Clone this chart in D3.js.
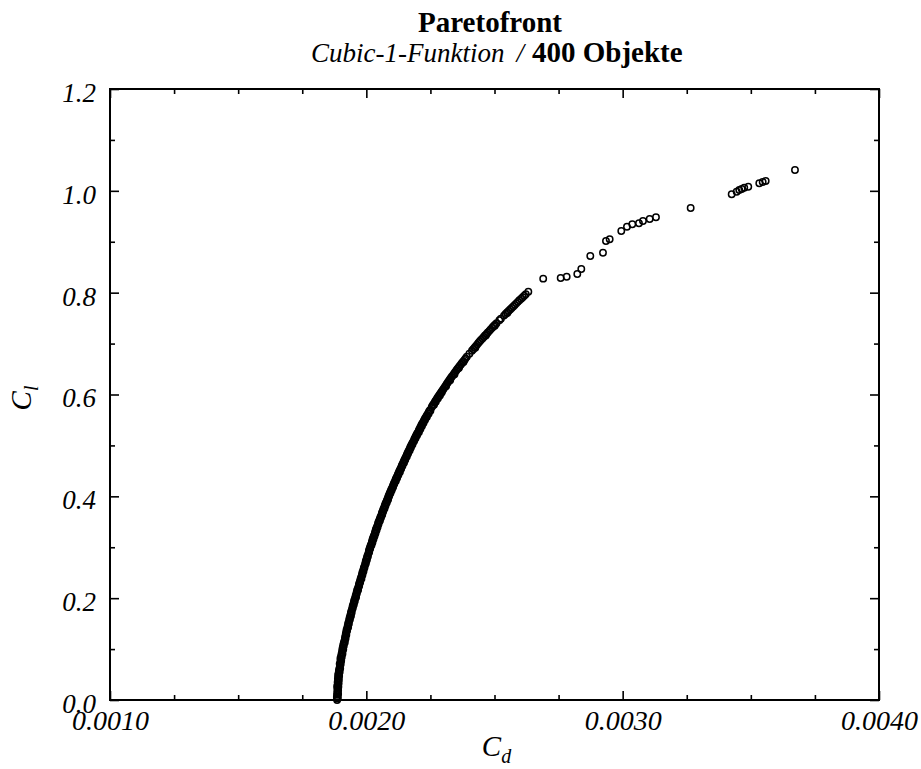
<!DOCTYPE html>
<html><head><meta charset="utf-8">
<script src="https://cdn.jsdelivr.net/npm/d3@7/dist/d3.min.js"></script>
<style>body{margin:0;background:#fff}</style>
</head><body><svg id="chart" width="921" height="769"></svg>
<script>
// ---------- data ----------
const titleText = "Paretofront";
const subtitleItalic = "Cubic-1-Funktion";
const subtitleSep = "/";
const subtitleBold = "400 Objekte";
const xTitle = ["C", "d"];
const yTitle = ["C", "l"];
const xDomain = [0.0010, 0.0040];
const yDomain = [0.0, 1.2];
const xMajorTicks = [0.0010, 0.0020, 0.0030, 0.0040];
const xMinorTicks = [0.00125, 0.0015, 0.00175, 0.00225, 0.0025, 0.00275, 0.00325, 0.0035, 0.00375];
const yMajorTicks = [0.0, 0.2, 0.4, 0.6, 0.8, 1.0, 1.2];
const yMinorTicks = [0.1, 0.3, 0.5, 0.7, 0.9, 1.1];

// Pareto front points [Cd, Cl]
const frontLower = [[0.001886,0.000],[0.001887,0.003],[0.001885,0.006],[0.001887,0.010],[0.001886,0.013],[0.001888,0.017],[0.001887,0.020],[0.001888,0.024],[0.001886,0.027],[0.001889,0.031],[0.001888,0.035],[0.001890,0.038],[0.001889,0.042],[0.001891,0.046],[0.001890,0.049],[0.001892,0.053],[0.001893,0.057],[0.001894,0.060],[0.001896,0.064],[0.001897,0.068],[0.001896,0.071],[0.001899,0.075],[0.001900,0.079],[0.001899,0.082],[0.001902,0.086],[0.001903,0.090],[0.001905,0.093],[0.001906,0.097],[0.001907,0.101],[0.001909,0.104],[0.001910,0.108],[0.001912,0.112],[0.001914,0.115],[0.001916,0.119],[0.001917,0.123],[0.001919,0.127],[0.001920,0.130],[0.001922,0.134],[0.001923,0.138],[0.001926,0.141],[0.001927,0.145],[0.001929,0.149],[0.001930,0.152],[0.001933,0.156],[0.001934,0.160],[0.001936,0.163],[0.001938,0.167],[0.001940,0.171],[0.001941,0.174],[0.001944,0.178],[0.001946,0.182],[0.001947,0.185],[0.001950,0.189],[0.001952,0.193],[0.001953,0.196],[0.001956,0.200],[0.001958,0.204],[0.001960,0.207],[0.001962,0.211],[0.001964,0.215],[0.001966,0.218],[0.001969,0.222],[0.001971,0.226],[0.001972,0.229],[0.001975,0.233],[0.001977,0.237],[0.001979,0.240],[0.001982,0.244],[0.001984,0.248],[0.001985,0.251],[0.001988,0.255],[0.001990,0.259],[0.001992,0.262],[0.001995,0.266],[0.001997,0.270],[0.001998,0.273],[0.002001,0.277],[0.002003,0.281],[0.002005,0.284],[0.002008,0.288],[0.002010,0.292],[0.002011,0.295],[0.002014,0.299]];

const frontLowerOuter = [[0.001889,0.005],[0.001890,0.012],[0.001890,0.019],[0.001891,0.026],[0.001892,0.033],[0.001893,0.040],[0.001894,0.047],[0.001896,0.055],[0.001898,0.062],[0.001900,0.070],[0.001902,0.077],[0.001904,0.084],[0.001907,0.091],[0.001910,0.099],[0.001912,0.106],[0.001916,0.113],[0.001919,0.121],[0.001922,0.128],[0.001925,0.136],[0.001929,0.143],[0.001932,0.150],[0.001936,0.158],[0.001940,0.165],[0.001943,0.172],[0.001947,0.180],[0.001951,0.187],[0.001955,0.194],[0.001960,0.202],[0.001963,0.209],[0.001968,0.216],[0.001972,0.224],[0.001976,0.231],[0.001981,0.238],[0.001985,0.246],[0.001989,0.253],[0.001993,0.260],[0.001998,0.268],[0.002002,0.275],[0.002006,0.282],[0.002011,0.290],[0.002015,0.297]];

const frontMiddle = [[0.002016,0.302],[0.002018,0.305],[0.002021,0.308],[0.002022,0.311],[0.002024,0.314],[0.002025,0.317],[0.002028,0.320],[0.002030,0.323],[0.002033,0.326],[0.002034,0.329],[0.002036,0.332],[0.002037,0.335],[0.002040,0.338],[0.002042,0.341],[0.002045,0.344],[0.002046,0.347],[0.002048,0.350],[0.002051,0.353],[0.002053,0.356],[0.002055,0.359],[0.002058,0.362],[0.002060,0.365],[0.002061,0.368],[0.002064,0.371],[0.002066,0.374],[0.002069,0.377],[0.002071,0.380],[0.002073,0.383],[0.002075,0.386],[0.002078,0.389],[0.002080,0.392],[0.002083,0.395],[0.002085,0.398],[0.002087,0.401],[0.002090,0.404],[0.002092,0.407],[0.002095,0.410],[0.002097,0.413],[0.002100,0.416],[0.002103,0.419],[0.002105,0.422],[0.002107,0.425],[0.002110,0.428],[0.002113,0.431],[0.002115,0.434],[0.002118,0.437],[0.002121,0.440],[0.002123,0.443],[0.002126,0.446],[0.002128,0.449],[0.002131,0.452],[0.002134,0.455],[0.002137,0.458],[0.002139,0.461],[0.002142,0.464],[0.002145,0.467],[0.002147,0.470],[0.002150,0.473],[0.002153,0.476],[0.002156,0.479],[0.002158,0.482],[0.002161,0.485],[0.002164,0.488],[0.002167,0.491],[0.002170,0.494],[0.002172,0.497],[0.002175,0.500]];

const frontMiddleOuter = [[0.002020,0.304],[0.002024,0.310],[0.002028,0.316],[0.002032,0.322],[0.002036,0.328],[0.002040,0.334],[0.002044,0.340],[0.002048,0.346],[0.002053,0.352],[0.002057,0.358],[0.002062,0.364],[0.002066,0.370],[0.002071,0.376],[0.002075,0.382],[0.002080,0.388],[0.002085,0.394],[0.002089,0.400],[0.002094,0.406],[0.002099,0.412],[0.002104,0.418],[0.002109,0.424],[0.002115,0.430],[0.002120,0.436],[0.002125,0.442],[0.002131,0.448],[0.002136,0.454],[0.002141,0.460],[0.002147,0.466],[0.002152,0.472],[0.002158,0.478],[0.002163,0.484],[0.002169,0.490],[0.002174,0.496]];

const frontUpper = [[0.002178,0.503],[0.002181,0.506],[0.002185,0.509],[0.002187,0.512],[0.002190,0.515],[0.002193,0.518],[0.002196,0.521],[0.002199,0.524],[0.002203,0.527],[0.002205,0.530],[0.002208,0.533],[0.002211,0.536],[0.002214,0.539],[0.002217,0.542],[0.002221,0.545],[0.002224,0.548],[0.002227,0.551],[0.002230,0.554],[0.002234,0.557],[0.002237,0.560],[0.002241,0.563],[0.002244,0.566],[0.002248,0.569],[0.002255,0.575],[0.002258,0.578],[0.002262,0.581],[0.002266,0.584],[0.002269,0.587],[0.002273,0.590],[0.002277,0.593],[0.002281,0.596],[0.002285,0.599],[0.002289,0.602],[0.002293,0.605],[0.002297,0.608],[0.002301,0.611],[0.002305,0.614],[0.002309,0.617],[0.002313,0.620],[0.002317,0.623],[0.002321,0.626],[0.002325,0.629],[0.002329,0.632],[0.002333,0.635],[0.002338,0.638],[0.002342,0.641],[0.002346,0.644],[0.002351,0.647],[0.002355,0.650],[0.002360,0.653],[0.002364,0.656],[0.002369,0.659],[0.002373,0.662],[0.002378,0.665],[0.002383,0.668],[0.002387,0.671],[0.002392,0.674],[0.002402,0.680],[0.002412,0.686],[0.002417,0.689],[0.002422,0.692],[0.002427,0.695],[0.002432,0.698],[0.002437,0.701],[0.002442,0.704],[0.002447,0.707],[0.002453,0.710],[0.002458,0.713],[0.002463,0.716],[0.002469,0.719],[0.002474,0.722],[0.002480,0.725],[0.002485,0.728],[0.002491,0.731],[0.002496,0.734],[0.002502,0.737],[0.002508,0.740],[0.002519,0.746],[0.002525,0.749],[0.002537,0.755],[0.002543,0.758],[0.002549,0.761],[0.002555,0.764],[0.002561,0.767],[0.002567,0.770],[0.002573,0.773],[0.002579,0.776],[0.002585,0.779],[0.002591,0.782],[0.002597,0.785],[0.002604,0.788],[0.002610,0.791],[0.002616,0.794],[0.002622,0.797],[0.002632,0.802]];

const frontUpperOuter = [[0.002180,0.502],[0.002186,0.508],[0.002192,0.514],[0.002198,0.520],[0.002205,0.526],[0.002211,0.532],[0.002217,0.538],[0.002223,0.544],[0.002229,0.550],[0.002236,0.556],[0.002243,0.562],[0.002250,0.568],[0.002264,0.580],[0.002271,0.586],[0.002279,0.592],[0.002287,0.598],[0.002294,0.604],[0.002311,0.616],[0.002327,0.628],[0.002344,0.640],[0.002361,0.652],[0.002379,0.664],[0.002425,0.692],[0.002466,0.716],[0.002501,0.735],[0.002550,0.760]];

const frontTail = [[0.002690,0.8275],[0.0027582,0.8288],[0.0027816,0.8314],[0.002823,0.8367],[0.0028386,0.8465],[0.0028737,0.8720],[0.0029232,0.8785],[0.0029349,0.9015],[0.0029493,0.9048],[0.0029946,0.9211],[0.0030168,0.9296],[0.0030375,0.9343],[0.0030636,0.9362],[0.0030792,0.9407],[0.0031054,0.9447],[0.0031299,0.9480],[0.0032653,0.9663],[0.0034253,0.9932],[0.0034447,0.9983],[0.0034549,1.0016],[0.0034643,1.0036],[0.0034744,1.0061],[0.0034900,1.0081],[0.0035330,1.0148],[0.0035462,1.0173],[0.0035579,1.0193],[0.0036722,1.0409]];

// ---------- drawing ----------
const svg = d3.select("#chart");
const mLeft = 110, mRight = 879, mTop = 89, mBottom = 700;
const x = d3.scaleLinear().domain(xDomain).range([mLeft, mRight]);
const y = d3.scaleLinear().domain(yDomain).range([mBottom, mTop]);
const serif = "Liberation Serif";
const majorLen = 9, minorLen = 5;

function styleAxis(g) {
  g.select(".domain").remove();
  g.selectAll(".tick line").attr("stroke", "#000").attr("stroke-width", 1.6);
}

// minor ticks (all four sides)
svg.append("g").attr("transform", `translate(0,${mBottom})`)
  .call(d3.axisBottom(x).tickValues(xMinorTicks).tickSize(-minorLen).tickFormat(""))
  .call(styleAxis);
svg.append("g").attr("transform", `translate(0,${mTop})`)
  .call(d3.axisTop(x).tickValues(xMinorTicks).tickSize(-minorLen).tickFormat(""))
  .call(styleAxis);
svg.append("g").attr("transform", `translate(${mLeft},0)`)
  .call(d3.axisLeft(y).tickValues(yMinorTicks).tickSize(-minorLen).tickFormat(""))
  .call(styleAxis);
svg.append("g").attr("transform", `translate(${mRight},0)`)
  .call(d3.axisRight(y).tickValues(yMinorTicks).tickSize(-minorLen).tickFormat(""))
  .call(styleAxis);

// major ticks with labels
const gx = svg.append("g").attr("transform", `translate(0,${mBottom})`)
  .call(d3.axisBottom(x).tickValues(xMajorTicks).tickSize(-majorLen).tickPadding(10).tickFormat(d3.format(".4f")))
  .call(styleAxis);
gx.selectAll("text").attr("font-family", serif).attr("font-style", "italic").attr("font-size", 28).attr("fill", "#000");

const gy = svg.append("g").attr("transform", `translate(${mLeft},0)`)
  .call(d3.axisLeft(y).tickValues(yMajorTicks).tickSize(-majorLen).tickPadding(14).tickFormat(d3.format(".1f")))
  .call(styleAxis);
gy.selectAll("text").attr("font-family", serif).attr("font-style", "italic").attr("font-size", 27).attr("fill", "#000").attr("dy", "0.46em");

svg.append("g").attr("transform", `translate(0,${mTop})`)
  .call(d3.axisTop(x).tickValues(xMajorTicks).tickSize(-majorLen).tickFormat(""))
  .call(styleAxis);
svg.append("g").attr("transform", `translate(${mRight},0)`)
  .call(d3.axisRight(y).tickValues(yMajorTicks).tickSize(-majorLen).tickFormat(""))
  .call(styleAxis);

// frame
svg.append("rect").attr("x", mLeft).attr("y", mTop).attr("width", mRight - mLeft).attr("height", mBottom - mTop)
  .attr("fill", "none").attr("stroke", "#000").attr("stroke-width", 2);

// points
const allPoints = [].concat(frontLower, frontLowerOuter, frontMiddle, frontMiddleOuter, frontUpper, frontUpperOuter, frontTail);
svg.append("g").selectAll("circle").data(allPoints).join("circle")
  .attr("cx", d => x(d[0])).attr("cy", d => y(d[1])).attr("r", 3.2)
  .attr("fill", "none").attr("stroke", "#000").attr("stroke-width", 1.5);

// titles
svg.append("text").attr("x", 490).attr("y", 32).attr("text-anchor", "middle")
  .attr("font-family", serif).attr("font-weight", "bold").attr("font-size", 29).text(titleText);

const sub = svg.append("text").attr("x", 311).attr("y", 62).attr("font-family", serif);
sub.append("tspan").attr("font-family", serif).attr("font-style", "italic").attr("font-size", 27).text(subtitleItalic);
sub.append("tspan").attr("font-family", serif).attr("font-style", "italic").attr("font-size", 27).attr("dx", 12).text(subtitleSep);
sub.append("tspan").attr("font-family", serif).attr("font-weight", "bold").attr("font-size", 29).attr("dx", 8).text(subtitleBold);

// axis titles
const xt = svg.append("text").attr("x", (mLeft + mRight) / 2 + 2).attr("y", 756).attr("text-anchor", "middle")
  .attr("font-family", serif).attr("font-style", "italic").attr("font-size", 29);
xt.append("tspan").text(xTitle[0]);
xt.append("tspan").attr("font-size", 20).attr("dy", 7).text(xTitle[1]);

const yt = svg.append("text").attr("transform", `translate(31,398) rotate(-90)`)
  .attr("text-anchor", "middle")
  .attr("font-family", serif).attr("font-style", "italic").attr("font-size", 29);
yt.append("tspan").text(yTitle[0]);
yt.append("tspan").attr("font-size", 20).attr("dy", 7).text(yTitle[1]);
</script>
</body></html>
